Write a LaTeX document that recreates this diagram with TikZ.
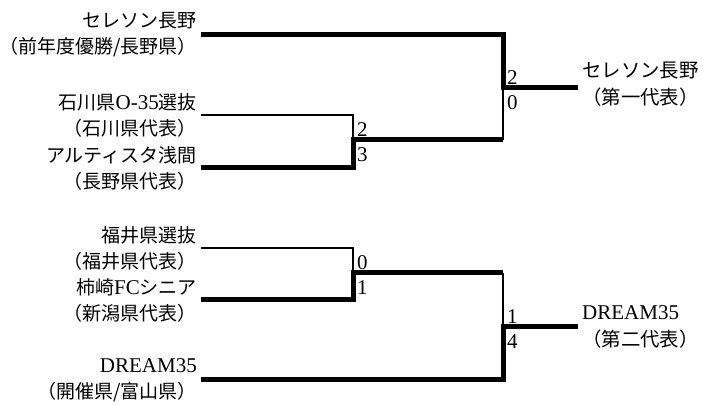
\documentclass[tikz,border=0pt]{standalone}
\usepackage{fontspec}
\setmainfont{Liberation Serif}
\newfontfamily\cjk{Noto Sans CJK JP}
\newcommand\lat[1]{{\fontsize{21}{26}\selectfont #1}}
\usetikzlibrary{calc,positioning}

\tikzset{
	team/.style={anchor=east, align=right, inner sep=4pt,
		font=\fontsize{19}{26}\selectfont},
	winner/.style={anchor=west, align=left, inner sep=4pt,
		font=\fontsize{19.4}{27}\selectfont},
	score/.style={anchor=base west, inner sep=2pt,
		font=\fontsize{21}{21}\selectfont},
	won/.style={line width=5pt},
	lost/.style={line width=2.4pt},
}

\begin{document}
\begin{tikzpicture}[x=1pt, y=-1pt, line join=miter]
		\useasboundingbox (0,0) rectangle (705,406);
		% teams, left column
		\node[team] (t1) at (201,35) {{\cjk セレソン長野}\\{\cjk （前年度優勝/長野県）}};
		\node[team] (t2) at (201,115) {{\cjk 石川県}\lat{O-35}{\cjk 選抜}\\{\cjk （石川県代表）}};
		\node[team] (t3) at (201,168) {{\cjk アルティスタ浅間}\\{\cjk （長野県代表）}};
		\node[team] (t4) at (201,248) {{\cjk 福井県選抜}\\{\cjk （福井県代表）}};
		\node[team] (t5) at (201,300) {{\cjk 柿崎}\lat{FC}{\cjk シニア}\\{\cjk （新潟県代表）}};
		\node[team] (t6) at (201,380) {\lat{DREAM35}\\{\cjk （開催県/富山県）}};
		% junctions
		\coordinate (s1) at (353,140);
		\coordinate (s2) at (353,273);
		\coordinate (f1) at (503,88);
		\coordinate (f2) at (503,327);
		% qualified teams
		\node[winner] (w1) at (578,84) {{\cjk セレソン長野}\\{\cjk （第一代表）}};
		\node[winner] (w2) at (578,327) {\lat{DREAM35}\\{\cjk （第二代表）}};
		% first rounds
		\draw[lost] (t2.east) -| (s1);
		\draw[won] (t3.east) -| (s1) -- (s1 -| f1) coordinate (s1f);
		\draw[won] (t5.east) -| (s2) -- (s2 -| f2) coordinate (s2f);
		\draw[lost] (t4.east) -| (s2);
		% finals
		\draw[lost] (s1f) -- (f1);
		\draw[won] (t1.east) -| (f1) -- (f1 -| w1.west);
		\draw[lost] (s2f) -- (f2);
		\draw[won] (t6.east) -| (f2) -- (f2 -| w2.west);
		% scores
		\foreach \j/\a/\b in {s1/2/3, s2/0/1, f1/2/0, f2/1/4}{
			\node[score] (\j a) at ($(\j)+(2,-3)$) {\a};
			\node[score] (\j b) at ($(\j)+(2,22)$) {\b};
		}
\end{tikzpicture}
\end{document}
